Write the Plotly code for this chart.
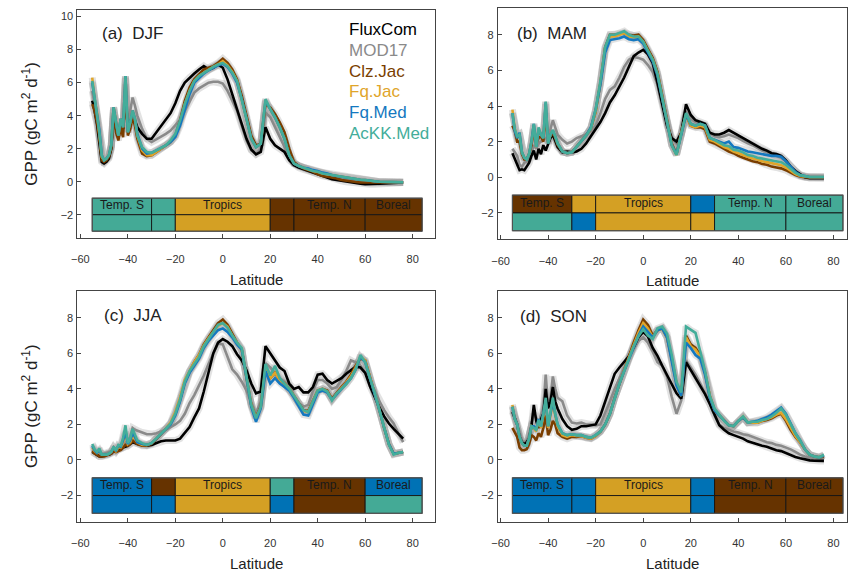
import plotly.graph_objects as go

# ---------------- data ----------------
LAT = [-55, -54, -53, -52, -51, -50, -49, -48, -47, -46, -45, -44, -43, -42, -41, -40, -39, -38, -37, -36,
       -34, -32, -30, -28, -26, -24, -22, -20, -18, -16,
       -14, -12, -10, -8, -6, -4, -2, 0, 2, 4,
       6, 8, 10, 12, 14, 16, 18, 20, 22, 24,
       26, 28, 30, 32, 34, 36, 38, 40, 42, 44,
       46, 48, 50, 52, 54, 56, 58, 60, 62, 64,
       66, 68, 70, 72, 74, 76]

SERIES_NAMES = ["FluxCom", "MOD17", "Clz.Jac", "Fq.Jac", "Fq.Med", "AcKK.Med"]

# DJF
DJF_FLUXCOM = [4.9, 4.3, 3.5, 2.5, 1.2, 1.1, 1.2, 1.4, 2.0, 4.0, 3.2, 2.8, 3.4, 3.2, 5.2, 3.3, 3.6, 4.0, 3.7, 3.3,
               2.9, 2.6, 2.6, 3.0, 3.35, 3.75, 4.15, 4.75, 5.5, 6.0,
               6.3, 6.55, 6.8, 7.0, 6.8, 6.9, 7.1, 6.9, 6.2, 5.3,
               4.5, 3.5, 2.6, 1.95, 1.65, 1.8, 3.3, 2.6, 2.2, 2.0,
               1.8, 1.3, 1.0, 0.85, 0.75, 0.65, 0.55, 0.45, 0.35, 0.25,
               0.15, 0.1, 0.05, 0.0, -0.05, -0.1, -0.12, -0.15, -0.15, -0.15,
               -0.12, -0.1, -0.08, -0.06, -0.05, -0.05]
DJF_MOD17 = [5.5, 4.8, 4.0, 2.8, 1.4, 1.2, 1.3, 1.5, 2.1, 4.4, 3.5, 2.9, 3.8, 3.4, 6.3, 3.5, 4.3, 5.1, 4.6, 4.0,
             3.2, 2.6, 2.4, 2.55, 2.7, 2.9, 3.1, 3.4, 3.75, 4.3,
             4.9, 5.4, 5.65, 5.85, 6.0, 6.05, 6.05, 5.95, 5.5, 4.9,
             4.3, 3.4, 2.5, 1.9, 1.7, 2.0, 4.2, 3.9, 3.3, 2.8,
             2.2, 1.5, 1.1, 0.95, 0.85, 0.75, 0.65, 0.55, 0.45, 0.4,
             0.3, 0.25, 0.2, 0.15, 0.1, 0.05, 0.02, 0.0, -0.02, -0.03,
             -0.03, -0.03, -0.03, -0.03, -0.03, -0.03]
DJF_CLZJAC = [4.7, 4.3, 3.6, 2.7, 1.3, 1.2, 1.3, 1.5, 2.0, 4.2, 3.0, 2.5, 3.3, 2.7, 5.9, 2.8, 3.2, 3.9, 3.4, 2.6,
              1.7, 1.55, 1.6, 1.8, 2.0, 2.2, 2.4, 2.8, 3.7, 4.9,
              5.7, 6.2, 6.5, 6.8, 6.9, 7.0, 7.2, 7.45, 7.2, 6.8,
              6.2, 5.2, 4.0, 2.8, 2.2, 2.3, 4.7, 4.5, 4.1, 3.6,
              3.0, 2.0, 1.2, 0.95, 0.8, 0.7, 0.6, 0.45, 0.35, 0.3,
              0.25, 0.2, 0.1, 0.05, 0.0, -0.02, -0.05, -0.05, -0.08, -0.08,
              -0.08, -0.08, -0.07, -0.06, -0.05, -0.05]
DJF_FQJAC = [6.3, 5.0, 4.2, 3.0, 1.5, 1.3, 1.4, 1.6, 2.2, 4.5, 3.5, 2.8, 3.8, 3.3, 6.3, 3.0, 3.6, 4.3, 3.8, 2.8,
             1.9, 1.6, 1.6, 1.8, 2.0, 2.2, 2.4, 2.8, 3.6, 4.7,
             5.5, 6.1, 6.4, 6.6, 6.8, 6.95, 7.1, 7.3, 7.05, 6.65,
             6.1, 5.0, 3.8, 2.6, 2.1, 2.3, 4.9, 4.4, 3.9, 3.3,
             2.6, 1.6, 1.1, 0.95, 0.85, 0.75, 0.65, 0.6, 0.5, 0.45,
             0.4, 0.35, 0.3, 0.25, 0.2, 0.15, 0.12, 0.1, 0.05, 0.03,
             0.0, 0.0, -0.02, -0.02, -0.03, -0.03]
DJF_FQMED = [6.0, 5.0, 4.2, 3.1, 1.6, 1.3, 1.4, 1.6, 2.2, 4.5, 3.6, 2.8, 3.8, 3.3, 6.4, 3.0, 3.6, 4.3, 3.8, 2.9,
             2.0, 1.7, 1.75, 1.9, 2.0, 2.2, 2.4, 2.7, 3.4, 4.4,
             5.3, 6.0, 6.3, 6.55, 6.75, 6.9, 7.05, 7.15, 6.95, 6.55,
             6.0, 5.0, 3.8, 2.6, 2.1, 2.3, 4.9, 4.4, 3.9, 3.3,
             2.6, 1.6, 1.1, 0.95, 0.85, 0.8, 0.7, 0.65, 0.55, 0.5,
             0.4, 0.35, 0.3, 0.25, 0.2, 0.15, 0.12, 0.1, 0.05, 0.03,
             0.0, 0.0, -0.02, -0.02, -0.03, -0.03]
DJF_ACKK = [6.1, 5.0, 4.2, 3.0, 1.6, 1.3, 1.4, 1.6, 2.2, 4.5, 3.6, 2.8, 3.8, 3.3, 6.4, 3.0, 3.6, 4.3, 3.8, 2.8,
            2.1, 1.8, 1.75, 1.9, 2.0, 2.2, 2.5, 2.9, 3.7, 4.7,
            5.5, 6.1, 6.4, 6.6, 6.8, 6.95, 7.1, 7.2, 7.0, 6.6,
            6.1, 5.0, 3.8, 2.6, 2.1, 2.3, 5.0, 4.4, 3.9, 3.3,
            2.6, 1.6, 1.1, 0.95, 0.85, 0.75, 0.65, 0.6, 0.5, 0.45,
            0.4, 0.35, 0.3, 0.25, 0.2, 0.15, 0.12, 0.1, 0.05, 0.03,
            0.0, 0.0, -0.02, -0.02, -0.03, -0.03]

# MAM
MAM_FLUXCOM = [1.35, 1.0, 0.7, 0.4, 0.45, 0.4, 0.6, 0.8, 1.2, 1.5, 1.0, 1.6, 1.3, 1.8, 1.5, 1.9, 2.2, 2.4, 2.0, 1.7,
               1.4, 1.45, 1.4, 1.45, 1.6, 1.9, 2.3, 2.7, 3.1, 3.6,
               4.2, 4.6, 5.1, 5.6, 6.2, 6.8, 7.0, 7.15, 6.9, 6.4,
               5.3, 4.1, 2.9, 2.2, 2.0, 2.5, 4.1, 3.5, 3.2, 3.1,
               3.0, 2.5, 2.4, 2.4, 2.5, 2.65, 2.5, 2.35, 2.2, 2.05,
               1.9, 1.75, 1.6, 1.5, 1.35, 1.3, 1.2, 0.95, 0.6, 0.35,
               0.15, 0.0, -0.05, -0.05, -0.05, -0.05]
MAM_MOD17 = [1.6, 1.4, 1.2, 0.7, 0.6, 0.8, 0.9, 1.0, 1.4, 1.8, 1.6, 1.9, 2.0, 2.1, 2.2, 2.3, 2.7, 3.2, 2.8, 2.4,
             2.1, 1.9, 2.0, 2.2, 2.3, 2.4, 2.6, 2.9, 3.6, 4.4,
             4.9, 5.1, 5.6, 6.2, 6.6, 6.75, 6.7, 6.6, 6.3, 5.9,
             5.2, 4.1, 3.0, 2.2, 1.9, 2.4, 3.7, 3.3, 3.1, 3.0,
             2.9, 2.5, 2.3, 2.25, 2.3, 2.4, 2.3, 2.2, 2.05, 1.9,
             1.8, 1.65, 1.5, 1.4, 1.3, 1.2, 1.1, 0.9, 0.6, 0.3,
             0.1, 0.0, -0.02, -0.02, -0.02, -0.02]
MAM_CLZJAC = [2.9, 2.6, 2.0, 2.0, 1.3, 1.0, 1.0, 1.3, 1.8, 2.7, 1.9, 2.2, 2.3, 2.0, 3.6, 2.0, 2.3, 2.5, 2.2, 1.8,
              1.45, 1.35, 1.4, 1.7, 2.0, 2.35, 2.75, 3.7, 5.3, 7.3,
              8.0, 8.0, 8.05, 8.1, 8.0, 7.95, 8.0, 7.7, 7.2, 6.7,
              5.9, 4.6, 3.1, 1.9, 1.3, 2.5, 3.5, 2.9, 2.8, 2.8,
              2.7, 2.0, 1.9, 1.75, 1.6, 1.45, 1.35, 1.2, 1.1, 1.0,
              0.9, 0.85, 0.75, 0.7, 0.6, 0.55, 0.5, 0.4, 0.25, 0.12,
              0.05, 0.0, 0.0, 0.0, 0.0, 0.0]
MAM_FQJAC = [3.8, 2.7, 2.3, 2.4, 1.4, 1.1, 1.0, 1.3, 2.0, 2.9, 1.7, 2.7, 2.4, 2.2, 4.1, 1.9, 2.4, 2.6, 2.3, 1.9,
             1.45, 1.35, 1.4, 1.7, 2.0, 2.35, 2.75, 3.7, 5.3, 7.2,
             7.9, 7.9, 8.0, 8.1, 7.9, 7.85, 7.9, 7.6, 7.1, 6.6,
             5.8, 4.5, 3.0, 1.8, 1.25, 2.5, 3.5, 2.9, 2.8, 2.9,
             2.8, 2.1, 2.0, 1.85, 1.7, 1.6, 1.45, 1.35, 1.25, 1.15,
             1.05, 1.0, 0.9, 0.85, 0.8, 0.72, 0.68, 0.55, 0.35, 0.18,
             0.08, 0.03, 0.01, 0.01, 0.01, 0.01]
MAM_FQMED = [3.6, 2.6, 2.2, 2.5, 1.4, 1.1, 1.0, 1.3, 2.0, 3.0, 1.7, 2.7, 2.4, 2.2, 4.2, 1.9, 2.4, 2.6, 2.3, 1.9,
             1.45, 1.35, 1.4, 1.7, 2.0, 2.35, 2.8, 3.8, 5.2, 7.0,
             7.7, 7.75, 7.8, 7.9, 7.75, 7.7, 7.75, 7.5, 7.0, 6.5,
             5.7, 4.4, 2.9, 1.8, 1.3, 2.4, 3.5, 3.0, 2.9, 3.0,
             2.9, 2.2, 2.1, 2.0, 1.9, 2.0, 1.7, 1.65, 1.55, 1.45,
             1.4, 1.35, 1.3, 1.25, 1.2, 1.2, 1.15, 0.9, 0.6, 0.3,
             0.12, 0.05, 0.02, 0.02, 0.02, 0.02]
MAM_ACKK = [3.6, 2.7, 2.3, 2.4, 1.4, 1.1, 1.0, 1.3, 2.0, 3.0, 1.7, 2.8, 2.4, 2.2, 4.25, 1.9, 2.4, 2.65, 2.3, 1.9,
            1.45, 1.35, 1.4, 1.7, 2.0, 2.35, 2.75, 3.8, 5.4, 7.3,
            8.0, 8.0, 8.1, 8.2, 8.0, 7.9, 7.9, 7.6, 7.1, 6.6,
            5.8, 4.5, 3.0, 1.8, 1.25, 2.5, 3.6, 3.0, 2.9, 3.0,
            2.9, 2.2, 2.1, 1.95, 1.8, 1.75, 1.55, 1.5, 1.4, 1.25,
            1.2, 1.1, 1.05, 1.0, 0.95, 0.9, 0.85, 0.7, 0.45, 0.25,
            0.12, 0.05, 0.02, 0.02, 0.02, 0.02]

# JJA
JJA_FLUXCOM = [0.45, 0.35, 0.3, 0.2, 0.2, 0.25, 0.3, 0.3, 0.35, 0.5, 0.5, 0.55, 0.6, 0.7, 0.75, 0.8, 0.9, 1.0, 0.95, 0.9,
               0.85, 0.8, 0.85, 0.95, 1.05, 1.1, 1.1, 1.1, 1.2, 1.5,
               1.85, 2.4, 2.9, 3.85, 5.0, 6.0, 6.6, 6.8, 6.65, 6.4,
               5.95, 5.6, 5.05, 4.3, 3.75, 3.85, 6.4, 6.0, 5.6, 5.2,
               5.0, 4.3, 4.0, 4.1, 3.8, 3.8, 4.1, 4.8, 4.85, 4.5,
               4.3, 4.45, 4.6, 4.85, 5.05, 5.25, 5.2, 4.9, 4.15, 3.5,
               2.95, 2.45, 2.05, 1.75, 1.45, 1.2]
JJA_MOD17 = [0.6, 0.5, 0.45, 0.35, 0.35, 0.35, 0.4, 0.45, 0.5, 0.65, 0.65, 0.75, 0.8, 0.9, 1.0, 1.1, 1.3, 1.8, 1.7, 1.65,
             1.55, 1.45, 1.45, 1.5, 1.6, 1.7, 1.85, 2.0, 2.2, 2.6,
             3.2, 3.65, 4.2, 4.75, 5.4, 6.0, 6.55, 6.5, 5.8, 5.1,
             4.8, 4.4, 3.9, 3.2, 2.6, 3.3, 5.45, 5.2, 4.9, 4.6,
             4.4, 4.2, 3.6, 3.2, 3.0, 3.1, 3.9, 4.5, 4.5, 4.3,
             4.0, 4.1, 4.5, 5.0, 5.6, 5.5, 5.3, 4.9, 4.4, 3.9,
             3.3, 2.8, 2.4, 2.05, 1.5, 1.0]
JJA_CLZJAC = [0.5, 0.35, 0.3, 0.2, 0.2, 0.2, 0.25, 0.3, 0.35, 0.5, 0.45, 0.5, 0.55, 0.7, 0.85, 0.8, 0.9, 1.1, 1.0, 0.9,
              0.8, 0.8, 0.9, 1.15, 1.45, 1.75, 2.05, 2.6, 3.4, 4.4,
              5.0, 5.5, 5.9, 6.5, 6.9, 7.3, 7.7, 7.9, 7.6, 7.1,
              6.6, 6.2, 4.6, 3.1, 2.4, 3.0, 5.2, 4.6, 4.9, 4.5,
              4.3, 4.0, 3.6, 3.2, 2.8, 2.75, 3.3, 3.9, 4.0, 3.9,
              3.45, 3.8, 4.1, 4.4, 4.8, 5.3, 5.7, 5.6, 4.7, 3.8,
              2.8, 1.8, 0.9, 0.35, 0.4, 0.45]
JJA_FQJAC = [0.7, 0.5, 0.4, 0.5, 0.3, 0.3, 0.3, 0.35, 0.45, 0.7, 0.5, 0.7, 0.7, 1.0, 1.5, 0.9, 1.0, 1.4, 1.2, 1.0,
             0.85, 0.85, 0.95, 1.2, 1.5, 1.75, 2.1, 2.7, 3.5, 4.5,
             5.0, 5.5, 5.9, 6.45, 6.85, 7.2, 7.55, 7.7, 7.5, 7.0,
             6.6, 6.2, 4.6, 3.1, 2.35, 2.95, 5.1, 4.6, 4.9, 4.5,
             4.3, 4.0, 3.6, 3.2, 2.75, 2.7, 3.3, 3.9, 4.0, 3.85,
             3.4, 3.75, 4.05, 4.35, 4.7, 5.2, 5.8, 5.6, 4.7, 3.8,
             2.8, 1.8, 0.9, 0.35, 0.4, 0.45]
JJA_FQMED = [0.8, 0.55, 0.4, 0.55, 0.3, 0.3, 0.3, 0.35, 0.45, 0.7, 0.55, 0.8, 0.75, 1.1, 1.6, 0.9, 1.1, 1.5, 1.3, 1.0,
             0.9, 0.85, 0.95, 1.2, 1.45, 1.7, 2.0, 2.5, 3.3, 4.3,
             4.9, 5.3, 5.7, 6.3, 6.7, 7.0, 7.3, 7.4, 7.2, 6.9,
             6.5, 6.2, 4.5, 3.0, 2.15, 2.9, 5.0, 4.3, 4.6, 4.3,
             4.1, 3.9, 3.5, 3.0, 2.55, 2.5, 3.2, 3.8, 3.9, 3.8,
             3.4, 3.7, 4.0, 4.3, 4.6, 5.1, 5.8, 5.5, 4.6, 3.8,
             2.8, 1.8, 0.9, 0.35, 0.4, 0.45]
JJA_ACKK = [0.9, 0.6, 0.45, 0.65, 0.3, 0.3, 0.3, 0.35, 0.45, 0.75, 0.55, 0.85, 0.8, 1.25, 1.95, 0.95, 1.2, 1.75, 1.4, 1.1,
            0.95, 0.85, 0.95, 1.2, 1.5, 1.75, 2.05, 2.6, 3.4, 4.4,
            5.0, 5.4, 5.8, 6.4, 6.8, 7.15, 7.6, 7.7, 7.45, 7.0,
            6.6, 6.3, 4.6, 3.1, 2.35, 3.0, 5.4, 4.75, 5.3, 4.6,
            4.3, 4.0, 3.6, 3.2, 2.8, 2.7, 3.3, 3.9, 4.0, 3.85,
            3.35, 3.75, 4.0, 4.25, 4.6, 5.1, 5.9, 5.5, 4.6, 3.8,
            2.8, 1.8, 0.85, 0.3, 0.4, 0.45]

# SON
SON_FLUXCOM = [2.7, 2.3, 2.0, 1.3, 1.0, 0.9, 1.0, 1.2, 1.9, 3.1, 2.2, 1.8, 2.3, 2.6, 4.0, 2.9, 3.3, 4.1, 3.3, 2.9,
               2.3, 1.9, 1.7, 1.75, 1.9, 1.9, 1.95, 2.0, 2.5, 3.3,
               4.1, 4.85, 5.2, 5.5, 5.85, 6.35, 6.9, 7.2, 6.95, 6.3,
               5.85, 5.3, 4.8, 4.25, 3.75, 3.45, 5.5, 5.05, 4.6, 4.2,
               3.7, 3.15, 2.5, 1.95, 1.7, 1.5, 1.4, 1.3, 1.2, 1.05,
               0.95, 0.88, 0.8, 0.75, 0.65, 0.55, 0.5, 0.38, 0.25, 0.17,
               0.1, 0.03, -0.02, -0.04, -0.05, -0.05]
SON_MOD17 = [2.8, 2.4, 2.1, 1.6, 1.1, 1.0, 1.1, 1.4, 2.0, 2.6, 2.4, 2.0, 2.5, 2.9, 4.8, 3.0, 3.5, 4.7, 4.0, 3.5,
             3.3, 2.5, 2.1, 2.05, 2.1, 2.0, 2.0, 1.95, 2.0, 2.6,
             3.3, 4.0, 4.6, 5.2, 5.75, 6.25, 6.7, 6.9, 6.6, 6.1,
             5.5, 5.3, 4.7, 3.55, 2.6, 3.35, 5.6, 5.2, 4.8, 4.3,
             3.75, 3.2, 2.5, 2.0, 1.8, 1.7, 1.6, 1.55, 1.45, 1.4,
             1.3, 1.2, 1.1, 1.0, 0.95, 0.85, 0.8, 0.7, 0.6, 0.45,
             0.3, 0.2, 0.12, 0.08, 0.05, 0.05]
SON_CLZJAC = [1.8, 1.5, 1.3, 0.7, 0.55, 0.55, 0.6, 0.9, 1.4, 1.3, 1.1, 1.5, 1.3, 1.8, 2.5, 1.4, 1.7, 2.2, 2.0, 1.5,
              1.3, 1.2, 1.3, 1.3, 1.35, 1.25, 1.2, 1.35, 1.6, 2.0,
              2.6, 3.5, 4.3, 5.1, 5.8, 6.6, 7.3, 7.9, 7.6, 7.0,
              7.3, 7.4, 6.9, 5.7, 4.3, 3.6, 7.0, 6.5, 6.3, 5.9,
              4.9, 3.6, 2.8, 2.5, 2.2, 1.95, 1.9, 2.2, 2.4, 2.1,
              2.1, 2.1, 2.2, 2.25, 2.35, 2.5, 2.6, 2.2, 1.7, 1.3,
              1.0, 0.6, 0.3, 0.2, 0.15, 0.2]
SON_FQJAC = [3.1, 2.3, 2.0, 1.3, 0.95, 0.8, 0.8, 1.2, 1.9, 1.8, 1.6, 2.2, 1.8, 2.5, 3.2, 1.8, 2.5, 3.2, 2.5, 1.9,
             1.4, 1.3, 1.4, 1.35, 1.35, 1.25, 1.2, 1.35, 1.6, 2.0,
             2.6, 3.5, 4.3, 5.05, 5.75, 6.5, 7.15, 7.7, 7.4, 6.9,
             7.3, 7.4, 6.9, 5.7, 4.3, 3.6, 6.9, 6.4, 6.2, 5.8,
             4.9, 3.6, 2.8, 2.5, 2.2, 1.95, 1.9, 2.2, 2.45, 2.1,
             2.1, 2.1, 2.2, 2.3, 2.4, 2.55, 2.65, 2.3, 1.8, 1.35,
             1.0, 0.6, 0.3, 0.2, 0.15, 0.25]
SON_FQMED = [3.0, 2.3, 2.0, 1.3, 0.95, 0.8, 0.8, 1.2, 1.9, 1.9, 1.7, 2.3, 1.9, 2.6, 3.3, 1.9, 2.6, 3.3, 2.6, 2.0,
             1.5, 1.4, 1.45, 1.4, 1.4, 1.3, 1.25, 1.4, 1.6, 2.0,
             2.6, 3.5, 4.3, 5.0, 5.7, 6.4, 7.0, 7.5, 7.2, 6.9,
             7.3, 7.4, 6.9, 5.6, 4.2, 3.6, 6.6, 6.3, 5.9, 5.7,
             4.8, 3.5, 2.8, 2.5, 2.2, 1.95, 1.9, 2.2, 2.4, 2.1,
             2.15, 2.2, 2.3, 2.4, 2.55, 2.75, 2.95, 2.6, 2.05, 1.5,
             1.1, 0.6, 0.3, 0.2, 0.15, 0.25]
SON_ACKK = [3.0, 2.3, 2.0, 1.3, 0.95, 0.8, 0.8, 1.2, 1.9, 1.8, 1.7, 2.25, 1.9, 2.6, 3.5, 1.9, 2.6, 3.5, 2.6, 2.0,
            1.5, 1.4, 1.45, 1.4, 1.4, 1.3, 1.25, 1.4, 1.6, 2.0,
            2.6, 3.5, 4.3, 5.0, 5.7, 6.4, 6.95, 7.35, 7.0, 6.8,
            7.4, 7.5, 7.1, 5.9, 4.4, 3.8, 7.5, 7.3, 7.15, 6.1,
            5.0, 3.6, 2.9, 2.55, 2.2, 1.95, 1.9, 2.2, 2.45, 2.1,
            2.15, 2.15, 2.25, 2.3, 2.45, 2.65, 2.9, 2.55, 2.05, 1.5,
            1.1, 0.6, 0.3, 0.2, 0.15, 0.3]

# Regional best-model boxes
ZONE_EDGES = [-55, -30, -20, 20, 30, 60, 84]
ZONE_LABELS = ["Temp. S", "Tropics", "Temp. N", "Boreal"]
ZONE_LABEL_CELLS = [0, 2, 4, 5]
DJF_TOP = ["AcKK.Med", "AcKK.Med", "Fq.Jac", "Clz.Jac", "Clz.Jac", "Clz.Jac"]
DJF_BOT = ["AcKK.Med", "AcKK.Med", "Fq.Jac", "Clz.Jac", "Clz.Jac", "Clz.Jac"]
MAM_TOP = ["Clz.Jac", "Fq.Jac", "Fq.Jac", "Fq.Med", "AcKK.Med", "AcKK.Med"]
MAM_BOT = ["AcKK.Med", "Fq.Med", "Fq.Jac", "Fq.Jac", "AcKK.Med", "AcKK.Med"]
JJA_TOP = ["Fq.Med", "Clz.Jac", "Fq.Jac", "AcKK.Med", "Clz.Jac", "Fq.Med"]
JJA_BOT = ["Fq.Med", "Fq.Med", "Fq.Jac", "Fq.Med", "Clz.Jac", "AcKK.Med"]
SON_TOP = ["Fq.Med", "Fq.Med", "Fq.Jac", "Fq.Med", "Clz.Jac", "Clz.Jac"]
SON_BOT = ["Fq.Med", "Fq.Med", "Fq.Jac", "Fq.Med", "Clz.Jac", "Clz.Jac"]

# ---------------- styles ----------------
LINE_COLORS = {"FluxCom": "#000000", "MOD17": "#8a8a8a", "Clz.Jac": "#7a3e00",
               "Fq.Jac": "#e0a52a", "Fq.Med": "#1478c0", "AcKK.Med": "#44ad9a"}
BOX_COLORS = {"Clz.Jac": "#663300", "Fq.Jac": "#d4a024", "Fq.Med": "#0072b5", "AcKK.Med": "#44aa96"}
FONT = "Liberation Sans, Arial, Helvetica, sans-serif"
W, H = 848, 573

panels = [
    dict(title="(a)  DJF", data=[DJF_FLUXCOM, DJF_MOD17, DJF_CLZJAC, DJF_FQJAC, DJF_FQMED, DJF_ACKK],
         top=DJF_TOP, bot=DJF_BOT, px=(71, 432), py=(10, 238), xr=[-61.25, 89.6], yr=[-3.41, 10.4],
         tpos=(94, 33), ytitle=True),
    dict(title="(b)  MAM", data=[MAM_FLUXCOM, MAM_MOD17, MAM_CLZJAC, MAM_FQJAC, MAM_FQMED, MAM_ACKK],
         top=MAM_TOP, bot=MAM_BOT, px=(495, 847), py=(8, 239.3), xr=[-61.1, 85.7], yr=[-3.48, 9.5],
         tpos=(512.5, 33), ytitle=False),
    dict(title="(c)  JJA", data=[JJA_FLUXCOM, JJA_MOD17, JJA_CLZJAC, JJA_FQJAC, JJA_FQMED, JJA_ACKK],
         top=JJA_TOP, bot=JJA_BOT, px=(71, 432), py=(290.7, 521.7), xr=[-61.25, 89.6], yr=[-3.47, 9.52],
         tpos=(96, 315), ytitle=True),
    dict(title="(d)  SON", data=[SON_FLUXCOM, SON_MOD17, SON_CLZJAC, SON_FQJAC, SON_FQMED, SON_ACKK],
         top=SON_TOP, bot=SON_BOT, px=(495, 847), py=(290.7, 521.7), xr=[-61.1, 85.7], yr=[-3.47, 9.52],
         tpos=(515, 316), ytitle=False),
]

fig = go.Figure()
shapes, annos = [], []
draw_order = [1, 0, 2, 3, 4, 5]

for i, p in enumerate(panels):
    k = "" if i == 0 else str(i + 1)
    xa, ya = "x" + k, "y" + k
    xd = [p["px"][0] / W, p["px"][1] / W]
    yd = [1 - p["py"][1] / H, 1 - p["py"][0] / H]
    axis_common = dict(showline=True, linecolor="#444", linewidth=1, mirror=True, ticks="inside",
                       ticklen=4, tickcolor="#444", showgrid=False, zeroline=False,
                       tickfont=dict(family=FONT, size=11, color="#333"))
    fig.layout["xaxis" + k] = dict(domain=xd, range=p["xr"], anchor=ya, tickvals=[-60, -40, -20, 0, 20, 40, 60, 80],
                                   ticklabelstandoff=11, **axis_common)
    yt = [-2, 0, 2, 4, 6, 8, 10] if i == 0 else [-2, 0, 2, 4, 6, 8]
    fig.layout["yaxis" + k] = dict(domain=yd, range=p["yr"], anchor=xa, tickvals=yt,
                                   ticklabelstandoff=1, **axis_common)

    # halo (uncertainty shading look)
    for j in draw_order:
        fig.add_trace(go.Scatter(x=LAT, y=p["data"][j], xaxis=xa, yaxis=ya, mode="lines",
                                 line=dict(color="rgba(150,150,150,0.28)", width=7),
                                 hoverinfo="skip", showlegend=False))
    for j in draw_order:
        name = SERIES_NAMES[j]
        fig.add_trace(go.Scatter(x=LAT, y=p["data"][j], xaxis=xa, yaxis=ya, mode="lines", name=name,
                                 line=dict(color=LINE_COLORS[name], width=2.6), showlegend=False))

    # region boxes
    for c in range(len(ZONE_EDGES) - 1):
        for row, lst in ((0, p["top"]), (1, p["bot"])):
            y1 = -1 - row
            shapes.append(dict(type="rect", xref=xa, yref=ya, x0=ZONE_EDGES[c], x1=ZONE_EDGES[c + 1],
                               y0=y1 - 1, y1=y1, fillcolor=BOX_COLORS[lst[c]],
                               line=dict(color="rgba(20,20,20,0.9)", width=1), layer="above"))
    shapes.append(dict(type="rect", xref=xa, yref=ya, x0=ZONE_EDGES[0], x1=ZONE_EDGES[-1], y0=-3, y1=-1,
                       line=dict(color="rgba(90,90,90,0.8)", width=1.2), fillcolor="rgba(0,0,0,0)", layer="above"))
    for lab, cell in zip(ZONE_LABELS, ZONE_LABEL_CELLS):
        xc = (ZONE_EDGES[cell] + ZONE_EDGES[cell + 1]) / 2
        annos.append(dict(xref=xa, yref=ya, x=xc, y=-1.42, text=lab, showarrow=False,
                          font=dict(family=FONT, size=12, color="#1a1a1a"), xanchor="center", yanchor="middle"))

    # panel title
    annos.append(dict(xref="paper", yref="paper", x=p["tpos"][0] / W, y=1 - p["tpos"][1] / H, text=p["title"],
                      showarrow=False, xanchor="left", yanchor="middle",
                      font=dict(family=FONT, size=17, color="#222")))
    # x title
    annos.append(dict(xref="paper", yref="paper", x=(p["px"][0] + p["px"][1]) / 2 / W,
                      y=1 - (p["py"][1] + 41.5) / H, text="Latitude", showarrow=False,
                      xanchor="center", yanchor="middle", font=dict(family=FONT, size=15, color="#222")))
    if p["ytitle"]:
        annos.append(dict(xref="paper", yref="paper", x=23 / W, y=1 - (p["py"][0] + p["py"][1]) / 2 / H,
                          text="GPP (gC m<sup>2</sup> d<sup>-1</sup>)", textangle=-90, showarrow=False,
                          xanchor="center", yanchor="middle", font=dict(family=FONT, size=17, color="#222")))

# legend as coloured text
for j, name in enumerate(SERIES_NAMES):
    annos.append(dict(xref="paper", yref="paper", x=343 / W, y=1 - (30 + 20.6 * j) / H, text=name,
                      showarrow=False, xanchor="left", yanchor="middle",
                      font=dict(family=FONT, size=17, color=LINE_COLORS[name])))

fig.update_layout(width=W, height=H, margin=dict(l=0, r=0, t=0, b=0), paper_bgcolor="white",
                  plot_bgcolor="white", shapes=shapes, annotations=annos, showlegend=False)

fig.write_html("out.html", config={"displayModeBar": False})

# remove the default page margin so the figure sits at the window's top-left corner
with open("out.html", "r", encoding="utf-8") as f:
    html = f.read()
html = html.replace("<head>", "<head><style>html,body{margin:0;padding:0;overflow:hidden;}</style>", 1)
with open("out.html", "w", encoding="utf-8") as f:
    f.write(html)
